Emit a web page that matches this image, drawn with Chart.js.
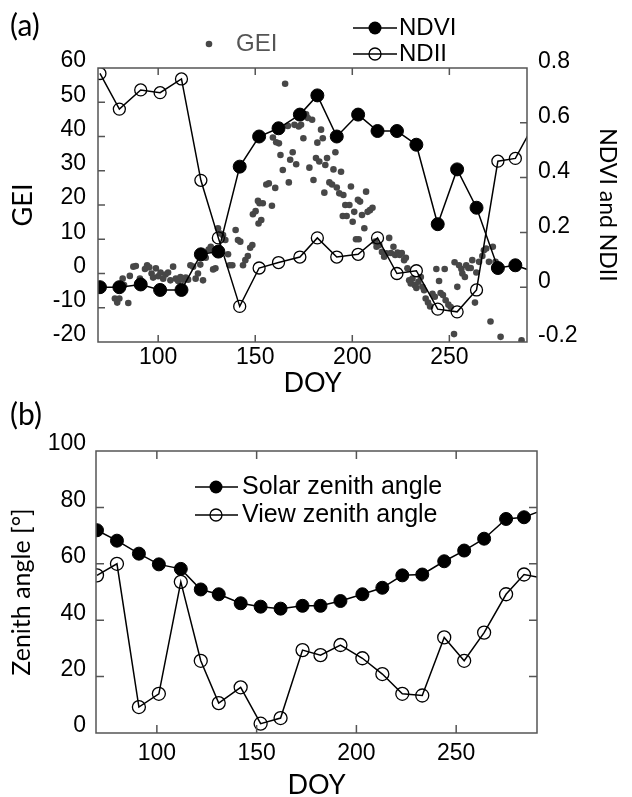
<!DOCTYPE html>
<html>
<head>
<meta charset="utf-8">
<script src="https://cdn.jsdelivr.net/npm/chart.js@4.4.1/dist/chart.umd.min.js"></script>
<style>
    html, body { margin: 0; padding: 0; background: #fff; }
    #wrap { position: relative; width: 632px; height: 797px; }
    .panel { position: absolute; left: 0; width: 632px; height: 400px; }
    #pa { top: 0; }
    #pb { top: 397px; }
</style>
</head>
<body>
<div id="wrap">
    <div class="panel" id="pa"><canvas id="chartA" width="632" height="400"></canvas></div>
    <div class="panel" id="pb"><canvas id="chartB" width="632" height="400"></canvas></div>
</div>
<script>
// --- DATA ---
// acquisition dates (DOY); the last one lies past the axis end and only shows as the line leaving the frame
const obsDoy = [70, 80, 91, 101, 112, 122, 131, 142, 152, 162, 173, 182, 192, 203, 213, 223, 233, 244, 254, 264, 275, 284, 294];
const ndvi = [0.00, 0.00, 0.01, -0.01, -0.01, 0.12, 0.13, 0.44, 0.55, 0.58, 0.63, 0.70, 0.55, 0.63, 0.57, 0.57, 0.52, 0.23, 0.43, 0.29, 0.07, 0.08, 0.055];
const ndii = [0.78, 0.65, 0.72, 0.71, 0.76, 0.39, 0.18, -0.07, 0.07, 0.09, 0.11, 0.18, 0.11, 0.12, 0.18, 0.05, 0.06, -0.08, -0.09, -0.01, 0.46, 0.47, 0.60];
const solarZenith = [71.9, 68.2, 63.6, 59.8, 58.2, 50.9, 49.2, 46.0, 44.8, 44.1, 45.1, 45.1, 46.8, 49.2, 51.5, 55.9, 56.2, 60.9, 64.7, 68.9, 75.9, 76.5, 79.2];
const viewZenith = [55.9, 60.0, 9.2, 13.9, 53.6, 25.6, 10.6, 16.2, 3.3, 5.3, 29.4, 27.6, 31.2, 26.5, 20.9, 13.9, 13.3, 33.9, 25.6, 35.6, 49.2, 56.2, 54.8];

// daily GEI
const geiDoy = [77.7, 78.9, 80.0, 81.7, 82.4, 84.6, 85.4, 87.2, 88.5, 89.7, 90.6, 93.2, 94.3, 95.4, 96.6, 97.4, 98.8, 100.0, 101.2, 102.6,
    103.8, 105.1, 106.3, 107.7, 109.1, 110.3, 111.5, 112.8, 114.2, 115.4, 116.6, 118.0, 119.3, 120.5, 121.7, 123.1, 124.5, 126.0, 127.1, 128.3,
    129.5, 130.8, 132.0, 133.4, 134.6, 136.0, 136.8, 138.2, 139.9, 141.1, 142.3, 143.7, 144.9, 146.2, 147.4, 148.5, 148.8, 150.2, 151.4, 152.2,
    151.7, 153.1, 153.9, 155.7, 157.0, 158.6, 160.3, 159.1, 160.8, 162.2, 163.0, 164.2, 165.4, 166.8, 167.3, 168.0, 169.3, 170.2, 171.1, 172.4,
    173.6, 174.8, 176.2, 177.1, 177.9, 179.3, 180.0, 181.3, 182.0, 183.0, 183.9, 184.8, 185.6, 186.1, 187.0, 188.2, 189.6, 190.3, 191.3, 192.0,
    193.3, 194.2, 195.4, 195.1, 196.4, 197.1, 198.5, 199.3, 200.2, 201.0, 201.9, 202.9, 203.3, 204.0, 205.0, 206.2, 207.1, 207.9, 209.1, 210.4,
    211.8, 212.5, 213.9, 215.3, 216.4, 217.6, 219.0, 219.9, 221.2, 222.1, 223.3, 224.5, 225.5, 226.7, 227.6, 228.4, 229.3, 230.1, 231.0, 232.2,
    233.0, 234.1, 235.3, 236.1, 237.0, 237.8, 239.0, 240.1, 241.3, 242.5, 243.3, 244.7, 245.5, 246.7, 247.6, 248.1, 249.5, 250.7, 252.4, 252.7,
    254.1, 255.0, 256.2, 256.7, 258.0, 258.7, 259.8, 261.0, 261.8, 263.2, 263.9, 265.3, 267.0, 267.8, 269.0, 270.4, 271.2, 272.4, 273.8, 276.4,
    287.2];
const gei = [-7.3, -8.5, -7.3, -1.5, -3.4, -8.6, -0.7, 2.0, 2.2, -3.4, -1.5, 1.3, 2.4, 1.8, 0.0, -1.2, 1.5, -0.8, 0.3, -1.5,
    -0.3, 0.3, -2.0, 2.0, -1.5, -2.2, -1.0, -1.8, -1.2, -1.8, 2.4, 2.0, -1.5, 0.0, 2.6, -2.0, 4.6, 7.0, 7.8, 1.2,
    1.5, 13.2, 11.7, 11.2, 9.8, 5.6, 2.4, 2.4, 12.7, 9.8, 9.3, 2.4, 3.9, 5.1, 7.5, 8.3, 17.3, 18.2, 21.2, 20.5,
    14.6, 15.6, 20.5, 26.0, 26.3, 19.8, 25.0, 39.7, 38.3, 38.0, 34.6, 30.2, 55.4, 43.1, 26.6, 33.2, 35.4, 43.4, 31.9, 42.9,
    43.4, 39.5, 46.5, 45.4, 30.9, 44.9, 27.3, 33.7, 38.2, 32.7, 42.0, 39.5, 23.6, 31.7, 33.7, 26.6, 26.0, 30.4, 35.4, 25.1,
    23.4, 29.7, 22.9, 16.8, 20.0, 16.8, 20.0, 25.4, 15.1, 18.0, 10.0, 21.5, 10.0, 21.0, 17.1, 13.2, 23.9, 18.0, 18.5, 19.2,
    9.3, 7.8, 8.3, 6.3, 4.9, 5.9, 10.4, 6.0, 7.8, 5.4, 6.1, 5.4, 6.0, 3.9, 4.6, 1.5, -2.0, -2.9, -1.5, -3.4,
    -4.2, -2.4, -1.0, -3.9, -4.9, -7.3, -8.5, -9.6, -5.9, -6.8, 1.3, -2.2, -5.7, -6.3, 1.3, -7.8, -9.1, -9.8, -17.7, 3.3,
    -3.9, 2.4, 1.3, 0.0, -1.0, 2.4, 1.6, 1.6, 3.9, -8.5, 0.3, 3.4, 5.1, 6.8, 7.3, 3.4, -14.0, 7.8, 3.4, -18.5,
    -19.5];

const doyTicks = [100, 150, 200, 250];

// --- HELPERS ---
const pts = (xs, ys) => xs.map((x, i) => ({ x: x, y: ys[i] }));
const TICK_FONT = { family: "'Liberation Sans', Arial, sans-serif", size: 23 };
const TITLE_FAMILY = "Lato, 'Open Sans', sans-serif";
const KEY_FONT = "24px 'Liberation Sans', Arial, sans-serif";

Chart.defaults.color = '#000';
Chart.defaults.animation = false;

// box round the plot + inward tick marks on all four sides
function framePlugin(len, rightScale) {
    return {
        id: 'frame',
        afterDraw(chart) {
            const { ctx, chartArea: a, scales } = chart;
            ctx.save();
            ctx.strokeStyle = '#555';
            ctx.lineWidth = 1.5;
            ctx.strokeRect(a.left, a.top, a.right - a.left, a.bottom - a.top);
            ctx.beginPath();
            const inside = (s, v) => v > s.min && v < s.max;
            const xs = scales.x;
            xs.ticks.forEach(t => {
                if (!inside(xs, t.value)) return;
                const px = xs.getPixelForValue(t.value);
                ctx.moveTo(px, a.bottom); ctx.lineTo(px, a.bottom - len);
                ctx.moveTo(px, a.top); ctx.lineTo(px, a.top + len);
            });
            const ys = scales.y;
            const rs = scales[rightScale];
            ys.ticks.forEach(t => {
                if (!inside(ys, t.value)) return;
                const py = ys.getPixelForValue(t.value);
                ctx.moveTo(a.left, py); ctx.lineTo(a.left + len, py);
            });
            rs.ticks.forEach(t => {
                if (!inside(rs, t.value)) return;
                const py = rs.getPixelForValue(t.value);
                ctx.moveTo(a.right, py); ctx.lineTo(a.right - len, py);
            });
            ctx.stroke();
            ctx.restore();
        }
    };
}

// hand-placed keys and the panel letter
function keyPlugin(tag, items) {
    return {
        id: 'key',
        afterDraw(chart) {
            const ctx = chart.ctx;
            ctx.save();
            ctx.textAlign = 'left';
            ctx.textBaseline = 'middle';
            items.forEach(it => {
                if (it.line) {
                    ctx.strokeStyle = '#000';
                    ctx.lineWidth = 1.5;
                    ctx.beginPath();
                    ctx.moveTo(it.line[0], it.y);
                    ctx.lineTo(it.line[1], it.y);
                    ctx.stroke();
                }
                ctx.beginPath();
                ctx.arc(it.mx, it.y, it.r, 0, Math.PI * 2);
                if (it.solid) {
                    ctx.fillStyle = it.solid;
                    ctx.fill();
                } else {
                    ctx.strokeStyle = '#000';
                    ctx.lineWidth = 1.3;
                    ctx.stroke();
                }
                ctx.font = it.font;
                ctx.fillStyle = it.color || '#000';
                ctx.fillText(it.text, it.tx, it.y);
            });
            ctx.font = tag.font;
            ctx.fillStyle = '#000';
            ctx.fillText(tag.text, tag.x, tag.y);
            ctx.restore();
        }
    };
}

const xAxis = (min, max, height, pad, titlePad) => ({
    type: 'linear', min: min, max: max,
    afterFit: s => { s.height = height; },
    afterBuildTicks: s => { s.ticks = doyTicks.map(v => ({ value: v })); },
    grid: { display: false, drawTicks: false }, border: { display: false },
    ticks: { font: TICK_FONT, padding: pad, maxRotation: 0 },
    title: { display: true, text: 'DOY', font: { family: TITLE_FAMILY, size: 27, lineHeight: 1 }, padding: { top: 0, bottom: titlePad } }
});

// --- (a) GEI, NDVI, NDII ---
new Chart(document.getElementById('chartA'), {
    type: 'scatter',
    data: {
        datasets: [
            {
                label: 'NDVI', data: pts(obsDoy, ndvi), yAxisID: 'y1', showLine: true, order: 0,
                borderColor: '#000', borderWidth: 1.5,
                pointRadius: 6.5, pointBackgroundColor: '#000', pointBorderColor: '#000', pointBorderWidth: 1
            },
            {
                label: 'NDII', data: pts(obsDoy, ndii), yAxisID: 'y1', showLine: true, order: 1,
                borderColor: '#000', borderWidth: 1.5,
                pointRadius: 6, pointBackgroundColor: 'rgba(0,0,0,0)', pointBorderColor: '#000', pointBorderWidth: 1.3
            },
            {
                label: 'GEI', data: pts(geiDoy, gei), yAxisID: 'y', order: 2,
                pointRadius: 3.3, pointBackgroundColor: '#474747', pointBorderWidth: 0
            }
        ]
    },
    options: {
        responsive: false,
        devicePixelRatio: 1,
        layout: { padding: { top: 68, left: 0, right: 0, bottom: 0 } },
        plugins: { legend: { display: false }, tooltip: { enabled: false } },
        scales: {
            x: xAxis(69, 290, 58, 2, 3),
            y: {
                position: 'left', min: -20, max: 60,
                afterFit: s => { s.width = 98; },
                grid: { display: false, drawTicks: false }, border: { display: false },
                ticks: { stepSize: 10, font: TICK_FONT, padding: 12, labelOffset: -7 },
                title: { display: true, text: 'GEI', font: { family: TITLE_FAMILY, size: 27, lineHeight: 1 }, padding: { top: 10, bottom: 0 } }
            },
            y1: {
                position: 'right', min: -0.2, max: 0.8,
                afterFit: s => { s.width = 105; },
                grid: { display: false, drawTicks: false }, border: { display: false },
                ticks: { stepSize: 0.2, font: TICK_FONT, padding: 11, labelOffset: -6, callback: v => String(+v.toFixed(1)) },
                title: { display: true, text: 'NDVI and NDII', font: { family: TITLE_FAMILY, size: 23, lineHeight: 1 }, padding: { top: 13, bottom: 0 } }
            }
        }
    },
    plugins: [
        framePlugin(7, 'y1'),
        keyPlugin({ text: '(a)', x: 10, y: 26, font: "30px " + TITLE_FAMILY }, [
            { mx: 209, y: 44, r: 3.3, solid: '#474747', text: 'GEI', tx: 236, color: '#555', font: KEY_FONT },
            { line: [353, 397], mx: 375, y: 28, r: 6.5, solid: '#000', text: 'NDVI', tx: 399, font: KEY_FONT },
            { line: [353, 397], mx: 375, y: 54, r: 6, text: 'NDII', tx: 399, font: KEY_FONT }
        ])
    ]
});

// --- (b) solar / view zenith angles ---
new Chart(document.getElementById('chartB'), {
    type: 'scatter',
    data: {
        datasets: [
            {
                label: 'Solar zenith angle', data: pts(obsDoy, solarZenith), showLine: true, order: 0,
                borderColor: '#000', borderWidth: 1.5,
                pointRadius: 6.5, pointBackgroundColor: '#000', pointBorderColor: '#000', pointBorderWidth: 1
            },
            {
                label: 'View zenith angle', data: pts(obsDoy, viewZenith), showLine: true, order: 1,
                borderColor: '#000', borderWidth: 1.5,
                pointRadius: 6.5, pointBackgroundColor: 'rgba(0,0,0,0)', pointBorderColor: '#000', pointBorderWidth: 1.3
            }
        ]
    },
    options: {
        responsive: false,
        devicePixelRatio: 1,
        layout: { padding: { top: 54, left: 0, right: 95, bottom: 0 } },
        plugins: { legend: { display: false }, tooltip: { enabled: false } },
        scales: {
            x: xAxis(69.5, 290.5, 64, 6.5, -2),
            y: {
                position: 'left', min: 0, max: 100,
                afterFit: s => { s.width = 96; },
                grid: { display: false, drawTicks: false }, border: { display: false },
                ticks: { stepSize: 20, font: TICK_FONT, padding: 10, labelOffset: -7 },
                title: { display: true, text: 'Zenith angle [°]', font: { family: TITLE_FAMILY, size: 25, lineHeight: 1 }, padding: { top: 9, bottom: 0 } }
            }
        }
    },
    plugins: [
        framePlugin(8, 'y'),
        keyPlugin({ text: '(b)', x: 10, y: 18, font: "30px " + TITLE_FAMILY }, [
            { line: [195, 238], mx: 216, y: 90, r: 6.5, solid: '#000', text: 'Solar zenith angle', tx: 242, font: "25px 'Liberation Sans', Arial, sans-serif" },
            { line: [195, 238], mx: 216, y: 118, r: 6, text: 'View zenith angle', tx: 242, font: "25px 'Liberation Sans', Arial, sans-serif" }
        ])
    ]
});
</script>
</body>
</html>
